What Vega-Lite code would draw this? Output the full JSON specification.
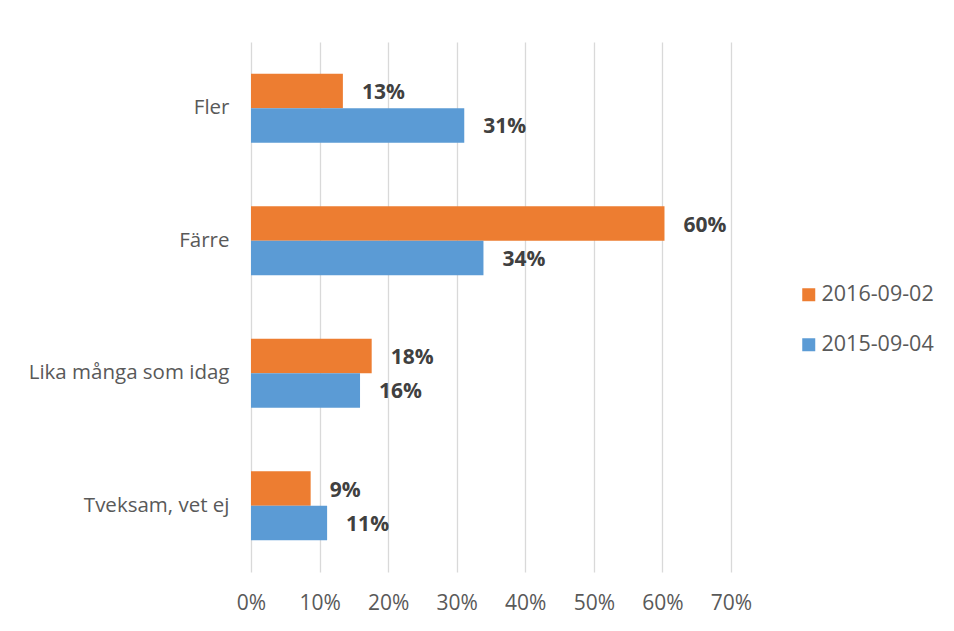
{
  "$schema": "https://vega.github.io/schema/vega-lite/v6.json",
  "width": 480,
  "height": 530,
  "autosize": {"type": "none"},
  "padding": {"left": 251, "top": 42, "right": 223, "bottom": 59},
  "background": "white",
  "config": {
    "view": {"stroke": null},
    "font": "Open Sans"
  },
  "data": {
    "values": [
      {"svar": "Fler", "datum": "2016-09-02", "andel": 0.134},
      {"svar": "Fler", "datum": "2015-09-04", "andel": 0.311},
      {"svar": "Färre", "datum": "2016-09-02", "andel": 0.603},
      {"svar": "Färre", "datum": "2015-09-04", "andel": 0.339},
      {"svar": "Lika många som idag", "datum": "2016-09-02", "andel": 0.176},
      {"svar": "Lika många som idag", "datum": "2015-09-04", "andel": 0.159},
      {"svar": "Tveksam, vet ej", "datum": "2016-09-02", "andel": 0.087},
      {"svar": "Tveksam, vet ej", "datum": "2015-09-04", "andel": 0.111}
    ]
  },
  "encoding": {
    "y": {
      "field": "svar",
      "type": "nominal",
      "sort": ["Fler", "Färre", "Lika många som idag", "Tveksam, vet ej"],
      "scale": {"paddingInner": 0.48, "paddingOuter": 0.24},
      "axis": {
        "title": null,
        "domain": false,
        "ticks": false,
        "labelFontSize": 20.5,
        "labelColor": "#595959",
        "labelPadding": 22,
        "labelFont": "Open Sans",
        "labelLimit": 300
      }
    },
    "yOffset": {
      "field": "datum",
      "type": "nominal",
      "sort": ["2016-09-02", "2015-09-04"]
    },
    "x": {
      "field": "andel",
      "type": "quantitative",
      "scale": {"domain": [0, 0.7], "nice": false},
      "axis": {
        "title": null,
        "format": ".0%",
        "values": [0, 0.1, 0.2, 0.3, 0.4, 0.5, 0.6, 0.7],
        "domain": false,
        "ticks": false,
        "grid": true,
        "gridColor": "#D9D9D9",
        "gridWidth": 1.3,
        "labelFlush": false,
        "labelOverlap": false,
        "labelFontSize": 21,
        "labelColor": "#595959",
        "labelPadding": 20,
        "labelFont": "Open Sans"
      }
    }
  },
  "layer": [
    {
      "mark": {"type": "bar"},
      "encoding": {
        "color": {
          "field": "datum",
          "type": "nominal",
          "sort": ["2016-09-02", "2015-09-04"],
          "scale": {"domain": ["2016-09-02", "2015-09-04"], "range": ["#ED7D31", "#5B9BD5"]},
          "legend": {
            "title": null,
            "orient": "none",
            "legendX": 547,
            "legendY": 242,
            "padding": 0,
            "symbolType": "square",
            "symbolSize": 169,
            "symbolStrokeWidth": 0,
            "labelFontSize": 21.5,
            "labelColor": "#595959",
            "labelFont": "Open Sans",
            "rowPadding": 27,
            "labelOffset": 2
          }
        }
      }
    },
    {
      "mark": {
        "type": "text",
        "align": "left",
        "baseline": "middle",
        "dx": 19,
        "dy": 2,
        "fontSize": 21,
        "fontWeight": "bold",
        "color": "#404040",
        "font": "Open Sans"
      },
      "encoding": {
        "text": {"field": "andel", "type": "quantitative", "format": ".0%"}
      }
    }
  ]
}
